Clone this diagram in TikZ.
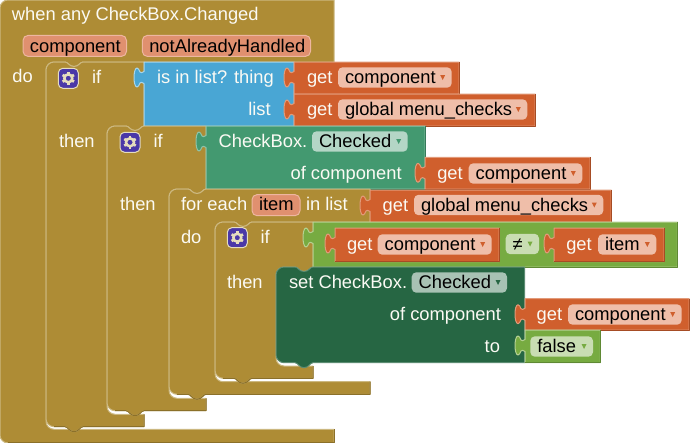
\documentclass[tikz,border=0pt]{standalone}
\usepackage{fontspec}
\setmainfont{Liberation Sans}
\definecolor{br}{HTML}{AE8C35}\definecolor{brL}{HTML}{CCB880}\definecolor{brD}{HTML}{8B7029}
\definecolor{or}{HTML}{D05F2D}\definecolor{orL}{HTML}{E29A79}\definecolor{orD}{HTML}{A64C24}\definecolor{orP}{HTML}{EFBEA9}
\definecolor{bl}{HTML}{49A6D4}\definecolor{blL}{HTML}{A8D6EC}\definecolor{blD}{HTML}{3A85AA}
\definecolor{te}{HTML}{439970}\definecolor{teL}{HTML}{8EC4AA}\definecolor{teD}{HTML}{357A5A}\definecolor{teP}{HTML}{B4D6C6}
\definecolor{dg}{HTML}{266643}\definecolor{dgL}{HTML}{5C8C72}\definecolor{dgD}{HTML}{1E5236}\definecolor{dgP}{HTML}{A8C2B4}
\definecolor{gr}{HTML}{77AB41}\definecolor{grL}{HTML}{B5D193}\definecolor{grD}{HTML}{5F8934}\definecolor{grP}{HTML}{C9DDB3}
\definecolor{hdP}{HTML}{E0906F}\definecolor{hdL}{HTML}{EEB6A0}
\definecolor{gearbg}{HTML}{4A38A8}\definecolor{gearfg}{HTML}{E5DDBE}
\definecolor{txw}{HTML}{FBFAF4}
\tikzset{
  lbl/.style={inner sep=0pt,outer sep=0pt,font=\fontsize{13.75pt}{16pt}\selectfont,text=txw,anchor=base west,yshift=-0.5pt},
  lblr/.style={lbl,anchor=base east},
  pilltxt/.style={lbl,text=black},
  edge/.style={line width=0.75pt,line join=round},
  pillbox/.style={rounded corners=3.4pt}
}
% C-shaped statement block: L,T,R,innerTop,innerLeft,innerBottom,Bottom
\newcommand{\cblock}[7]{%
  \path[fill=br,draw=brL,edge]
   (#1,{#2+8}) .. controls (#1,{#2+3.6}) and ({#1+3.6},#2) .. ({#1+8},#2)
   -- ({#1+19},#2) .. controls ({#1+22},#2) and ({#1+23},{#2+4.5}) .. ({#1+28},{#2+4.5})
   .. controls ({#1+33},{#2+4.5}) and ({#1+34},#2) .. ({#1+37},#2)
   -- (#3,#2) -- (#3,#4)
   -- ({#5+37},#4) .. controls ({#5+34},#4) and ({#5+33},{#4+4.5}) .. ({#5+28},{#4+4.5})
   .. controls ({#5+23},{#4+4.5}) and ({#5+22},#4) .. ({#5+19},#4)
   -- ({#5+8},#4) .. controls ({#5+3.6},#4) and (#5,{#4+3.6}) .. (#5,{#4+8})
   -- (#5,{#6-8}) .. controls (#5,{#6-3.6}) and ({#5+3.6},#6) .. ({#5+8},#6)
   -- (#3,#6) -- (#3,#7)
   -- ({#1+37},#7) .. controls ({#1+34},#7) and ({#1+33},{#7+5}) .. ({#1+28},{#7+5})
   .. controls ({#1+23},{#7+5}) and ({#1+22},#7) .. ({#1+19},#7)
   -- ({#1+8},#7) .. controls ({#1+3.6},#7) and (#1,{#7-3.6}) .. (#1,{#7-8}) -- cycle;
  \draw[brD,edge] (#3,#6) -- (#3,#7)
   -- ({#1+37},#7) .. controls ({#1+34},#7) and ({#1+33},{#7+5}) .. ({#1+28},{#7+5})
   .. controls ({#1+23},{#7+5}) and ({#1+22},#7) .. ({#1+19},#7) -- ({#1+8},#7);
}
% value block with puzzle tab: x1,y1,x2,y2,fill,light,dark
\newcommand{\vblock}[7]{%
  \path[fill=#5,draw=#6,edge]
   (#1,#2) -- (#3,#2) -- (#3,#4) -- (#1,#4) -- (#1,{#2+21.5})
   .. controls ({#1-2},{#2+20}) and ({#1-3},{#2+20}) .. ({#1-4},{#2+21})
   .. controls ({#1-5},{#2+23}) and ({#1-5.5},{#2+25}) .. ({#1-7},{#2+25})
   .. controls ({#1-9},{#2+25}) and ({#1-10},{#2+20}) .. ({#1-10},{#2+15.5})
   .. controls ({#1-10},{#2+11}) and ({#1-9},{#2+6}) .. ({#1-7},{#2+6})
   .. controls ({#1-5.5},{#2+6}) and ({#1-5},{#2+8}) .. ({#1-4},{#2+10})
   .. controls ({#1-3},{#2+11}) and ({#1-2},{#2+11}) .. (#1,{#2+9.5}) -- cycle;
  \draw[#7,edge] (#3,#2) -- (#3,#4) -- (#1,#4);
}
% pill: name,x1,x2,baseline,text,fill,arrow colour
\newcommand{\pill}[7]{%
  \fill[#6,pillbox] (#2,{#4-15.7}) rectangle (#3,{#4+4.7});
  \node[pilltxt] (#1) at ({#2+7},#4) {#5};
  \fill[#7] ({#3-11.5},{#4-8}) -- ({#3-6.5},{#4-8}) -- ({#3-9},{#4-3}) -- cycle;
}
% header pill without arrow: name,x1,x2,text
\newcommand{\hpill}[4]{%
  \path[fill=hdP,draw=hdL,edge,rounded corners=3.8pt] (#2,35.4) rectangle (#3,56.4);
  \node[pilltxt] (#1) at ({#2+7},51.7) {#4};
}
\newcommand{\gearicon}[2]{%
  \begin{scope}[shift={(#1,#2)}]
    \path[fill=gearbg,draw=gearfg,edge,rounded corners=3.4pt] (-10,-10) rectangle (10,10);
    \foreach \a in {30,90,150,210,270,330}
      \draw[gearfg,line width=2pt] (\a:3) -- (\a:6.6);
    \draw[gearfg,line width=1.9pt] (0,0) circle[radius=3pt];
  \end{scope}
}
\begin{document}
\begin{tikzpicture}[x=0.75pt,y=-0.75pt]
\useasboundingbox (0,0) rectangle (690,443);
\fill[white] (0,0) rectangle (690,443);
% event block
\path[fill=br,draw=brL,edge]
  (0,8) .. controls (0,3.6) and (3.6,0) .. (8,0) -- (334,0) -- (334,62)
  -- (83,62) .. controls (80,62) and (79,66.5) .. (74,66.5)
  .. controls (69,66.5) and (68,62) .. (65,62)
  -- (54,62) .. controls (49.6,62) and (46,65.6) .. (46,70)
  -- (46,421.3) .. controls (46,425.7) and (49.6,429.3) .. (54,429.3)
  -- (334,429.3) -- (334,443) -- (8,443) .. controls (3.6,443) and (0,439.4) .. (0,435) -- cycle;
\draw[brD,edge] (334,429.3) -- (334,442.6) -- (8,442.6);
\node[lbl] (whenany) at (12,20) {when any CheckBox.Changed};
\hpill{hcomp}{23}{126.5}{component}
\hpill{hnot}{142.3}{310.5}{notAlreadyHandled}
\node[lbl] (do1) at (12.5,82) {do};
% if 1
\cblock{46}{62}{144}{126}{107}{414.3}{426.7}
\gearicon{68.3}{78.3}
\node[lbl] (if1) at (92,83) {if};
\node[lbl] (then1) at (59,147) {then};
\vblock{144}{62}{294}{126}{bl}{blL}{blD}
\node[lbl] (isin) at (157,83) {is in list? thing};
\node[lblr] (list) at (270.7,115) {list};
\vblock{294}{62}{459}{94}{or}{orL}{orD}
\node[lbl] (get1) at (307,83) {get};
\pill{p1}{338}{451.7}{83}{component}{orP}{or}
\vblock{294}{94}{535}{126}{or}{orL}{orD}
\node[lbl] (get2) at (307,115) {get};
\pill{p2}{338}{527.3}{115}{global menu\_checks}{orP}{or}
% if 2
\cblock{107}{126}{206}{189}{169}{398.3}{410.7}
\gearicon{130}{142.3}
\node[lbl] (if2) at (153.5,147) {if};
\node[lbl] (then2) at (120,210) {then};
\vblock{206}{126}{425}{189}{te}{teL}{teD}
\node[lbl] (cb1) at (218.7,147) {CheckBox.};
\pill{p3}{312}{407.7}{147}{Checked}{teP}{te}
\node[lblr] (of1) at (401.7,179) {of component};
\vblock{425}{157.3}{590}{189}{or}{orL}{orD}
\node[lbl] (get3) at (437.3,179) {get};
\pill{p4}{468.7}{582.3}{179}{component}{orP}{or}
% for each
\cblock{169}{189}{370}{222}{215}{381.7}{394.3}
\node[lbl] (foreach) at (181,210) {for each};
\path[fill=hdP,draw=hdL,edge,rounded corners=3.8pt] (252,194.6) rectangle (300,215.7);
\node[pilltxt] (item0) at (259,210) {item};
\node[lbl] (inlist) at (306,210) {in list};
\node[lbl] (do2) at (181,242.7) {do};
\vblock{370}{190}{611}{222}{or}{orL}{orD}
\node[lbl] (get4) at (382.7,210.5) {get};
\pill{p5}{414}{603.3}{210.5}{global menu\_checks}{orP}{or}
% if 3
\cblock{215}{222}{313}{267}{276}{366}{378.3}
\gearicon{237.3}{237.7}
\node[lbl] (if3) at (260.6,243) {if};
\node[lbl] (then3) at (227,287.7) {then};
\vblock{313}{222}{677.3}{267}{gr}{grL}{grD}
\vblock{335}{228}{499}{261.7}{or}{orL}{orD}
\node[lbl] (get5) at (347,250) {get};
\pill{p6}{377.7}{491.7}{250}{component}{orP}{or}
\pill{pne}{505.7}{539}{249.5}{≠}{grP}{gr}
\vblock{554}{228}{664}{261.7}{or}{orL}{orD}
\node[lbl] (get6) at (566.3,250) {get};
\pill{p7}{598}{656.3}{250}{item}{orP}{or}
% set block
\path[fill=dg,draw=dgL,edge]
  (276,275) .. controls (276,270.6) and (279.6,267) .. (284,267)
  -- (295,267) .. controls (298,267) and (299,271.5) .. (304,271.5)
  .. controls (309,271.5) and (310,267) .. (313,267)
  -- (524.6,267) -- (524.6,362.7)
  -- (313,362.7) .. controls (310,362.7) and (309,367.7) .. (304,367.7)
  .. controls (299,367.7) and (298,362.7) .. (295,362.7)
  -- (284,362.7) .. controls (279.6,362.7) and (276,359.1) .. (276,354.7) -- cycle;
\node[lbl] (set) at (289,288) {set CheckBox.};
\pill{p8}{411.7}{507}{288}{Checked}{dgP}{dg}
\node[lblr] (of2) at (501,320) {of component};
\node[lblr] (to) at (500,352) {to};
\vblock{525}{298.7}{689}{330}{or}{orL}{orD}
\node[lbl] (get7) at (536.7,320) {get};
\pill{p9}{568}{681.7}{320}{component}{orP}{or}
\vblock{525}{330}{600.3}{362.7}{gr}{grL}{grD}
\pill{p10}{530.3}{593}{352}{false}{grP}{gr}
\end{tikzpicture}
\end{document}
